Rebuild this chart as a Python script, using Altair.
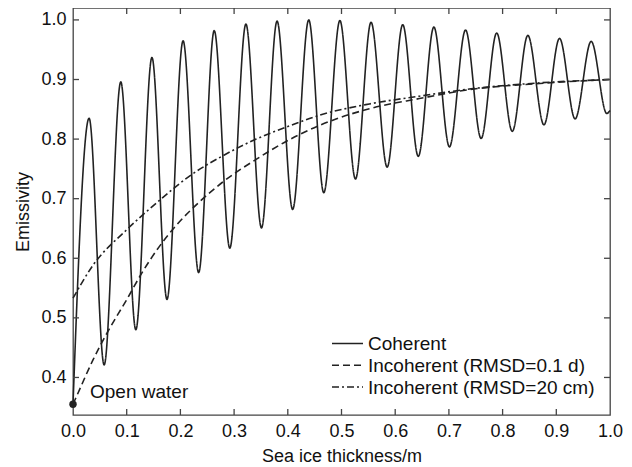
import altair as alt
import pandas as pd

# ---------------- data ----------------
x_ticks = [0.0, 0.1, 0.2, 0.3, 0.4, 0.5, 0.6, 0.7, 0.8, 0.9, 1.0]
y_ticks = [0.4, 0.5, 0.6, 0.7, 0.8, 0.9, 1.0]

series_names = ["Coherent", "Incoherent (RMSD=0.1 d)", "Incoherent (RMSD=20 cm)"]

# Coherent: start, then alternating peaks / troughs, end
coherent_x = [0.000, 0.030, 0.058, 0.089, 0.117, 0.147, 0.175, 0.205, 0.234,
              0.263, 0.292, 0.322, 0.351, 0.380, 0.409, 0.439, 0.467, 0.497,
              0.526, 0.555, 0.585, 0.614, 0.643, 0.672, 0.701, 0.731, 0.760,
              0.789, 0.818, 0.847, 0.877, 0.906, 0.935, 0.965, 0.994, 1.000]
coherent_y = [0.355, 0.835, 0.421, 0.896, 0.480, 0.937, 0.531, 0.965, 0.576,
              0.982, 0.617, 0.993, 0.651, 0.998, 0.682, 1.000, 0.710, 0.999,
              0.733, 0.996, 0.753, 0.992, 0.771, 0.988, 0.787, 0.983, 0.801,
              0.978, 0.813, 0.974, 0.824, 0.969, 0.834, 0.964, 0.843, 0.848]

inc_d_x = [0.000, 0.006, 0.037, 0.068, 0.099, 0.130, 0.161, 0.192, 0.236,
           0.279, 0.341, 0.403, 0.459, 0.552, 0.645, 0.738, 0.863, 1.000]
inc_d_y = [0.355, 0.367, 0.429, 0.482, 0.529, 0.578, 0.620, 0.655, 0.695,
           0.728, 0.766, 0.799, 0.823, 0.851, 0.868, 0.883, 0.893, 0.900]

inc_20_x = [0.000, 0.037, 0.099, 0.161, 0.217, 0.279, 0.341, 0.403, 0.459,
            0.552, 0.645, 0.738, 0.863, 1.000]
inc_20_y = [0.533, 0.588, 0.647, 0.697, 0.738, 0.772, 0.800, 0.822, 0.840,
            0.859, 0.872, 0.884, 0.894, 0.900]

open_water_label = "Open water"

# ---------------- build tables ----------------
rows = []
for name, xs, ys in zip(series_names,
                        [coherent_x, inc_d_x, inc_20_x],
                        [coherent_y, inc_d_y, inc_20_y]):
    for i, (xv, yv) in enumerate(zip(xs, ys)):
        rows.append({"series": name, "x": xv, "y": yv, "i": i})
df = pd.DataFrame(rows)

dashes = [[1, 0], [7, 4], [7, 3, 2, 3]]
FONT = "Liberation Sans"
INK = "#222222"
FRAME = "#444444"
W, H = 537, 407

xscale = alt.Scale(domain=[0, 1], nice=False, zero=False)
yscale = alt.Scale(domain=[0.337, 1.02], nice=False, zero=False)

lines = alt.Chart(df).mark_line(interpolate="monotone", strokeWidth=1.6, color=INK).encode(
    x=alt.X("x:Q", scale=xscale,
            axis=alt.Axis(values=x_ticks, format=".1f", labelPadding=7,
                          labelFlush=False,
                          title="Sea ice thickness/m", titleY=46,
                          titleBaseline="alphabetic")),
    y=alt.Y("y:Q", scale=yscale,
            axis=alt.Axis(values=y_ticks, format=".1f", labelPadding=7,
                          labelFlush=False,
                          title="Emissivity", titleX=-45,
                          titleBaseline="alphabetic")),
    detail="series:N",
    order="i:Q",
    strokeDash=alt.StrokeDash("series:N",
                              scale=alt.Scale(domain=series_names, range=dashes),
                              legend=None),
)

# inward ticks on all four sides
xt = pd.DataFrame({"t": x_ticks[1:-1]})
yt = pd.DataFrame({"t": y_ticks})
tick_style = dict(color=FRAME, strokeWidth=1.3)
ticks_bottom = alt.Chart(xt).mark_rule(**tick_style).encode(
    x=alt.X("t:Q", scale=xscale), y=alt.value(H), y2=alt.value(H - 6))
ticks_top = alt.Chart(xt).mark_rule(**tick_style).encode(
    x=alt.X("t:Q", scale=xscale), y=alt.value(0), y2=alt.value(6))
ticks_left = alt.Chart(yt).mark_rule(**tick_style).encode(
    y=alt.Y("t:Q", scale=yscale), x=alt.value(0), x2=alt.value(6))
ticks_right = alt.Chart(yt).mark_rule(**tick_style).encode(
    y=alt.Y("t:Q", scale=yscale), x=alt.value(W), x2=alt.value(W - 6))

# open water point + label
ow = pd.DataFrame({"x": [coherent_x[0]], "y": [coherent_y[0]], "label": [open_water_label]})
ow_pt = alt.Chart(ow).mark_circle(size=55, color=INK, opacity=1).encode(
    x=alt.X("x:Q", scale=xscale), y=alt.Y("y:Q", scale=yscale))
ow_txt = alt.Chart(ow).mark_text(align="left", baseline="alphabetic", dx=17, dy=-6,
                                 font=FONT, fontSize=19, color="#111111").encode(
    x=alt.X("x:Q", scale=xscale), y=alt.Y("y:Q", scale=yscale), text="label:N")

# manual legend
legend_layers = []
for k, (name, dash) in enumerate(zip(series_names, dashes)):
    ld = pd.DataFrame({"label": [name]})
    cy = 335.5 + 21.7 * k
    legend_layers.append(
        alt.Chart(ld).mark_rule(color=INK, strokeWidth=1.5, strokeDash=dash).encode(
            x=alt.value(259), x2=alt.value(290), y=alt.value(cy)))
    legend_layers.append(
        alt.Chart(ld).mark_text(align="left", baseline="alphabetic", font=FONT,
                                fontSize=19, color="#111111").encode(
            x=alt.value(295), y=alt.value(cy + 6.8), text="label:N"))

chart = alt.layer(
    lines, ticks_bottom, ticks_top, ticks_left, ticks_right, ow_pt, ow_txt, *legend_layers
).properties(
    width=W, height=H,
    autosize=alt.AutoSizeParams(type="none"),
    padding={"left": 65, "top": 0, "right": 14, "bottom": 52},
).configure_view(
    stroke=FRAME, strokeWidth=1.3
).configure_axis(
    grid=False, domain=False, ticks=False,
    labelFont=FONT, labelFontSize=18, labelColor="#111111",
    titleFont=FONT, titleFontSize=18, titleFontWeight="normal", titleColor="#111111",
)

chart.save("out.html", embed_options={"renderer": "svg", "actions": False})
